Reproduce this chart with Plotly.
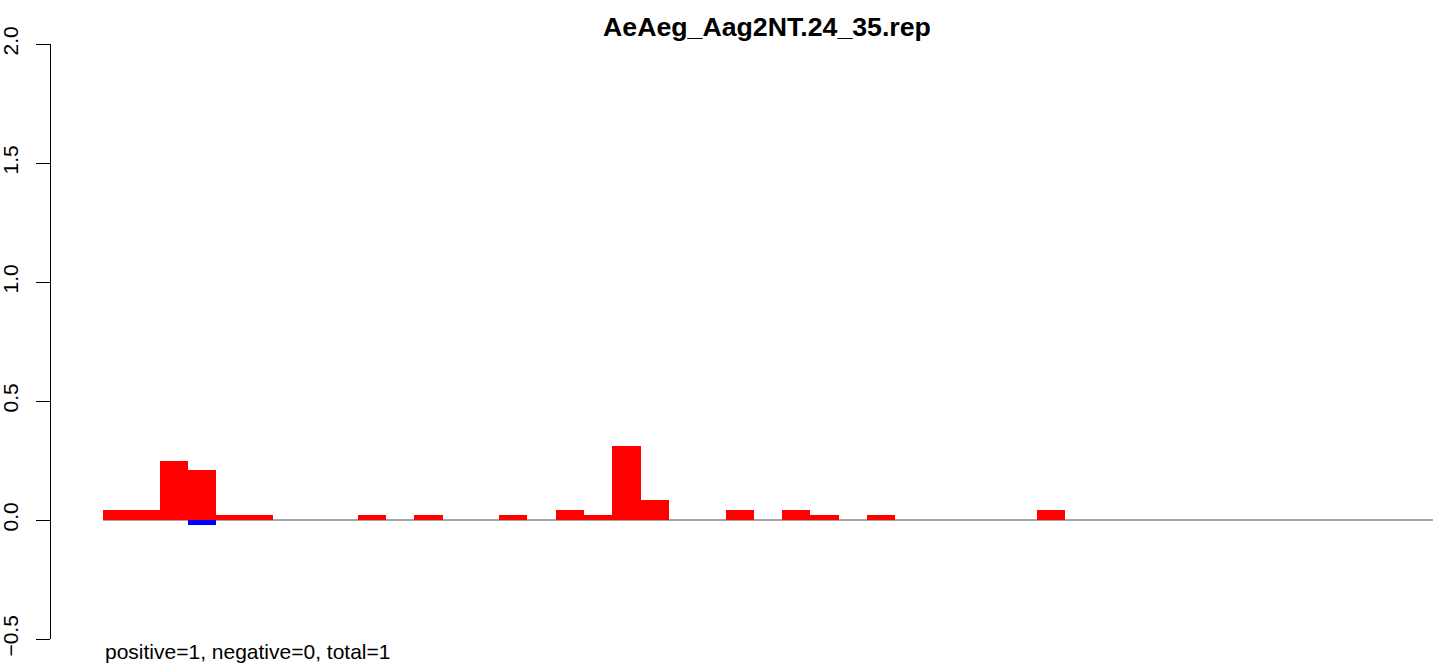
import plotly.graph_objects as go

# Data (bar positions are 0..46)
n_bins = 47
pos_idx = [0, 1, 2, 3, 4, 5, 9, 11, 14, 16, 17, 18, 19, 22, 24, 25, 27, 33]
pos_val = [2/48, 2/48, 12/48, 10/48, 1/48, 1/48, 1/48, 1/48, 1/48, 2/48,
           1/48, 15/48, 4/48, 2/48, 2/48, 1/48, 1/48, 2/48]
neg_idx = [3]
neg_val = [-1/48]
y_ticks = [-0.5, 0.0, 0.5, 1.0, 1.5, 2.0]
y_tick_text = ["\u22120.5", "0.0", "0.5", "1.0", "1.5", "2.0"]
title_text = "AeAeg_Aag2NT.24_35.rep"
note_text = "positive=1, negative=0, total=1"

FONT = "Liberation Sans, Arial, sans-serif"

fig = go.Figure()
fig.add_trace(go.Bar(x=[i + 0.5 for i in pos_idx], y=pos_val, width=1,
                     marker=dict(color="#FF0000", line=dict(width=0)),
                     showlegend=False))
fig.add_trace(go.Bar(x=[i + 0.5 for i in neg_idx], y=neg_val, width=1,
                     marker=dict(color="#0000FF", line=dict(width=0)),
                     showlegend=False))

# gray baseline
fig.add_shape(type="line", x0=0, x1=n_bins, y0=0, y1=0, xref="x", yref="y",
              line=dict(color="#A6A6A6", width=2), layer="below")

left_px, right_px = 51, 1433
top_px, bottom_px = 44, 639
bar0_px, bar_w_px = 103, 28.3
x_lo = (left_px - bar0_px) / bar_w_px

fig.update_layout(
    width=1439, height=666,
    margin=dict(l=left_px, r=1439 - right_px, t=top_px, b=666 - bottom_px, pad=0,
                autoexpand=False),
    paper_bgcolor="white", plot_bgcolor="white",
    barmode="overlay", bargap=0,
    font=dict(family=FONT, size=21, color="black"),
    title=dict(text="<b>" + title_text + "</b>", xref="container", yref="container",
               x=767 / 1439, y=1 - 27 / 666, xanchor="center", yanchor="middle",
               automargin=False,
               font=dict(family=FONT, size=26.7, color="black")),
    xaxis=dict(range=[x_lo, n_bins], visible=False, fixedrange=True, automargin=False),
    yaxis=dict(range=[-0.5, 2.0], tickvals=y_ticks, ticktext=y_tick_text,
               showgrid=False, zeroline=False, showline=True, linecolor="black",
               linewidth=1, ticks="outside", ticklen=14, tickwidth=1, tickcolor="black",
               tickangle=-90, ticklabelstandoff=10, automargin=False,
               tickfont=dict(family=FONT, size=21, color="black")),
    annotations=[dict(text=note_text, xref="paper", yref="paper",
                      x=(bar0_px - left_px) / (right_px - left_px),
                      y=-(651 - bottom_px) / (bottom_px - top_px),
                      xanchor="left", yanchor="middle", showarrow=False,
                      font=dict(family=FONT, size=21, color="black"))],
)

fig.write_html("out.html",
               config={"displayModeBar": False},
               post_script="document.body.style.margin='0';document.body.style.overflow='hidden';")
